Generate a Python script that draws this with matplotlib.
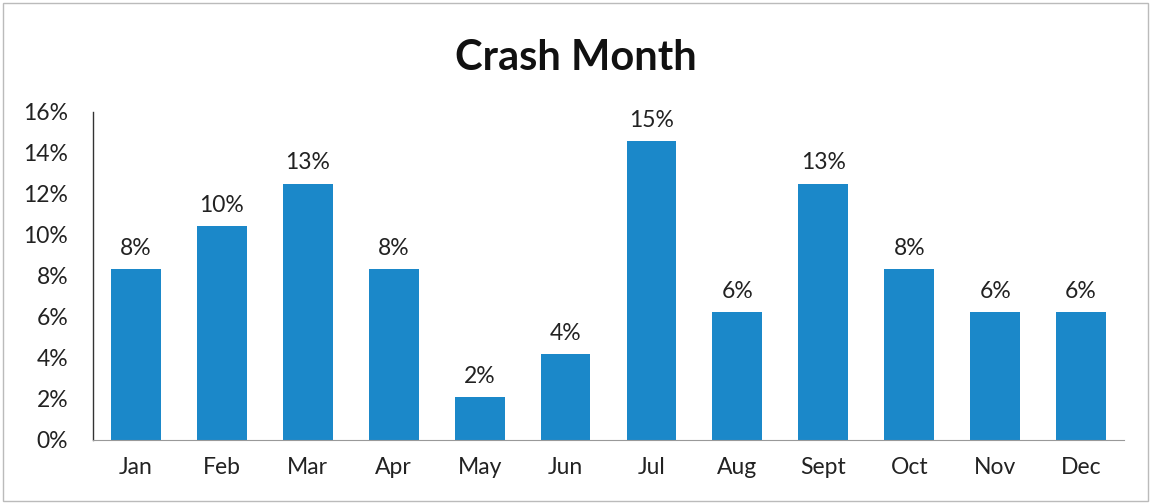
import matplotlib
matplotlib.use("Agg")
import matplotlib.pyplot as plt
from matplotlib.patches import Rectangle
import numpy as np

months = ["Jan", "Feb", "Mar", "Apr", "May", "Jun", "Jul", "Aug", "Sept", "Oct", "Nov", "Dec"]
share = [8.33, 10.42, 12.50, 8.33, 2.08, 4.17, 14.58, 6.25, 12.50, 8.33, 6.25, 6.25]

plt.rcParams['font.family'] = ['Lato', 'DejaVu Sans']

fig = plt.figure(figsize=(11.51, 5.04), dpi=100)
ax = fig.add_axes([0.0808, 0.127, 0.8958, 0.651])

ind = np.arange(len(months))
ax.bar(ind, share, width=0.58, color='#1b88c9')
for i, v in enumerate(share):
    ax.text(i, v + 0.5, f"{int(v + 0.5)}%", ha='center', va='bottom', fontsize=16.5, color='#222222')

ax.set_xlim(-0.5, len(months) - 0.5)
ax.set_ylim(0, 16)
ax.set_yticks(np.arange(0, 17, 2))
ax.set_yticklabels([f"{t}%" for t in range(0, 17, 2)])
ax.set_xticks(ind)
ax.set_xticklabels(months)
ax.tick_params(axis='both', length=0, labelsize=16.5, colors='#222222')
ax.tick_params(axis='y', pad=18)
ax.tick_params(axis='x', pad=12)
for s in ['top', 'right']:
    ax.spines[s].set_visible(False)
ax.spines['left'].set_color('#333333')
ax.spines['left'].set_linewidth(1.0)
ax.spines['bottom'].set_color('#999999')

fig.text(0.5, 0.885, "Crash Month", ha='center', va='center', fontsize=30, fontweight='bold', color='#111111')
fig.patches.append(Rectangle((0.003, 0.005), 0.994, 0.99, transform=fig.transFigure,
                             fill=False, edgecolor='#bbbbbb', linewidth=1))

fig.savefig("out.png", dpi=100)
